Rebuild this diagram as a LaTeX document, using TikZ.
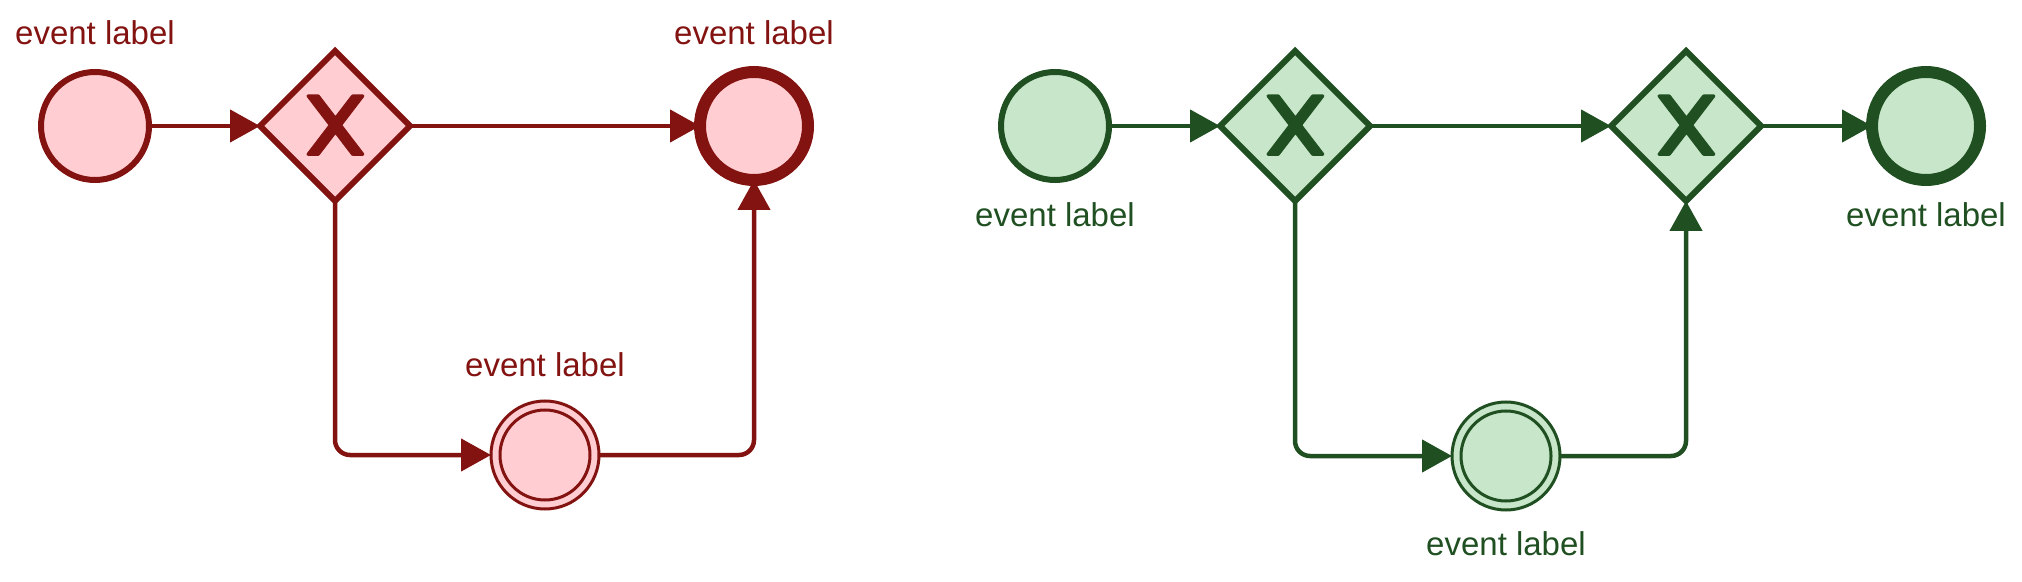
\documentclass[tikz,border=0pt]{standalone}
\usepackage{fontspec}
\setmainfont{Liberation Sans}
\usetikzlibrary{shapes.geometric,arrows.meta}
\definecolor{redS}{HTML}{831311}
\definecolor{redF}{HTML}{FFCDD2}
\definecolor{grnS}{HTML}{205022}
\definecolor{grnF}{HTML}{C8E6C9}
\newcommand{\gwmark}[2]{%
  \filldraw[draw=#2, fill=#2, line width=1.5pt, line join=round, shift={(#1.center)}]
    (-27,-30) -- (-4.71,-0.86) -- (-27,28.29) -- (-16.71,28.29) -- (0.43,5.91)
    -- (17.57,28.29) -- (27.86,28.29) -- (5.57,-0.86) -- (27.86,-30) -- (17.57,-30)
    -- (0.43,-7.63) -- (-16.71,-30) -- cycle;}
\begin{document}
\begin{tikzpicture}[x=0.5pt,y=-0.5pt,
  ev/.style={circle, minimum size=54pt, inner sep=0pt, outer sep=0pt, line width=3pt},
  endev/.style={ev, line width=6pt},
  midev/.style={ev, line width=1.5pt},
  gw/.style={diamond, aspect=1, minimum width=75pt, minimum height=75pt, inner sep=0pt, outer sep=0pt, line width=3pt},
  flow/.style={line width=2.25pt, -{Triangle[length=15pt,width=16pt]}, rounded corners=7.5pt},
  lbl/.style={anchor=base, inner sep=0pt, font=\fontsize{16.5}{19.8}\selectfont},
  redC/.style={draw=redS, fill=redF},
  grnC/.style={draw=grnS, fill=grnF},
]
\useasboundingbox (0,0) rectangle (2022,582);

% ---------- red diagram ----------
\node[ev, redC] (rs) at (95,126) {};
\node[gw, redC] (rg) at (335,126) {};
\node[endev, redC] (re) at (754,126) {};
\node[midev, redC] (ri) at (545,455) {};
\draw[redS, line width=1.5pt] (ri.center) circle[radius=45];
\gwmark{rg}{redS}

\node[lbl, text=redS] (rsl) at (95,45) {event label};
\node[lbl, text=redS] (rel) at (754,45) {event label};
\node[lbl, text=redS] (ril) at (545,377) {event label};

\draw[flow, redS] (rs) -- (rg);
\draw[flow, redS] (rg) -- (re);
\draw[flow, redS] (rg.south) |- (ri.west);
\draw[flow, redS] (ri.east) -| (re.south);

% ---------- green diagram ----------
\node[ev, grnC] (gs) at (1055,126) {};
\node[gw, grnC] (g1) at (1295,126) {};
\node[gw, grnC] (g2) at (1686,126) {};
\node[endev, grnC] (ge) at (1926,126) {};
\node[midev, grnC] (gi) at (1506,456) {};
\draw[grnS, line width=1.5pt] (gi.center) circle[radius=45];
\gwmark{g1}{grnS}
\gwmark{g2}{grnS}

\node[lbl, text=grnS] (gsl) at (1055,227) {event label};
\node[lbl, text=grnS] (gel) at (1926,227) {event label};
\node[lbl, text=grnS] (gil) at (1506,555) {event label};

\draw[flow, grnS] (gs) -- (g1);
\draw[flow, grnS] (g1) -- (g2);
\draw[flow, grnS] (g2) -- (ge);
\draw[flow, grnS] (g1.south) |- (gi.west);
\draw[flow, grnS] (gi.east) -| (g2.south);
\end{tikzpicture}
\end{document}
